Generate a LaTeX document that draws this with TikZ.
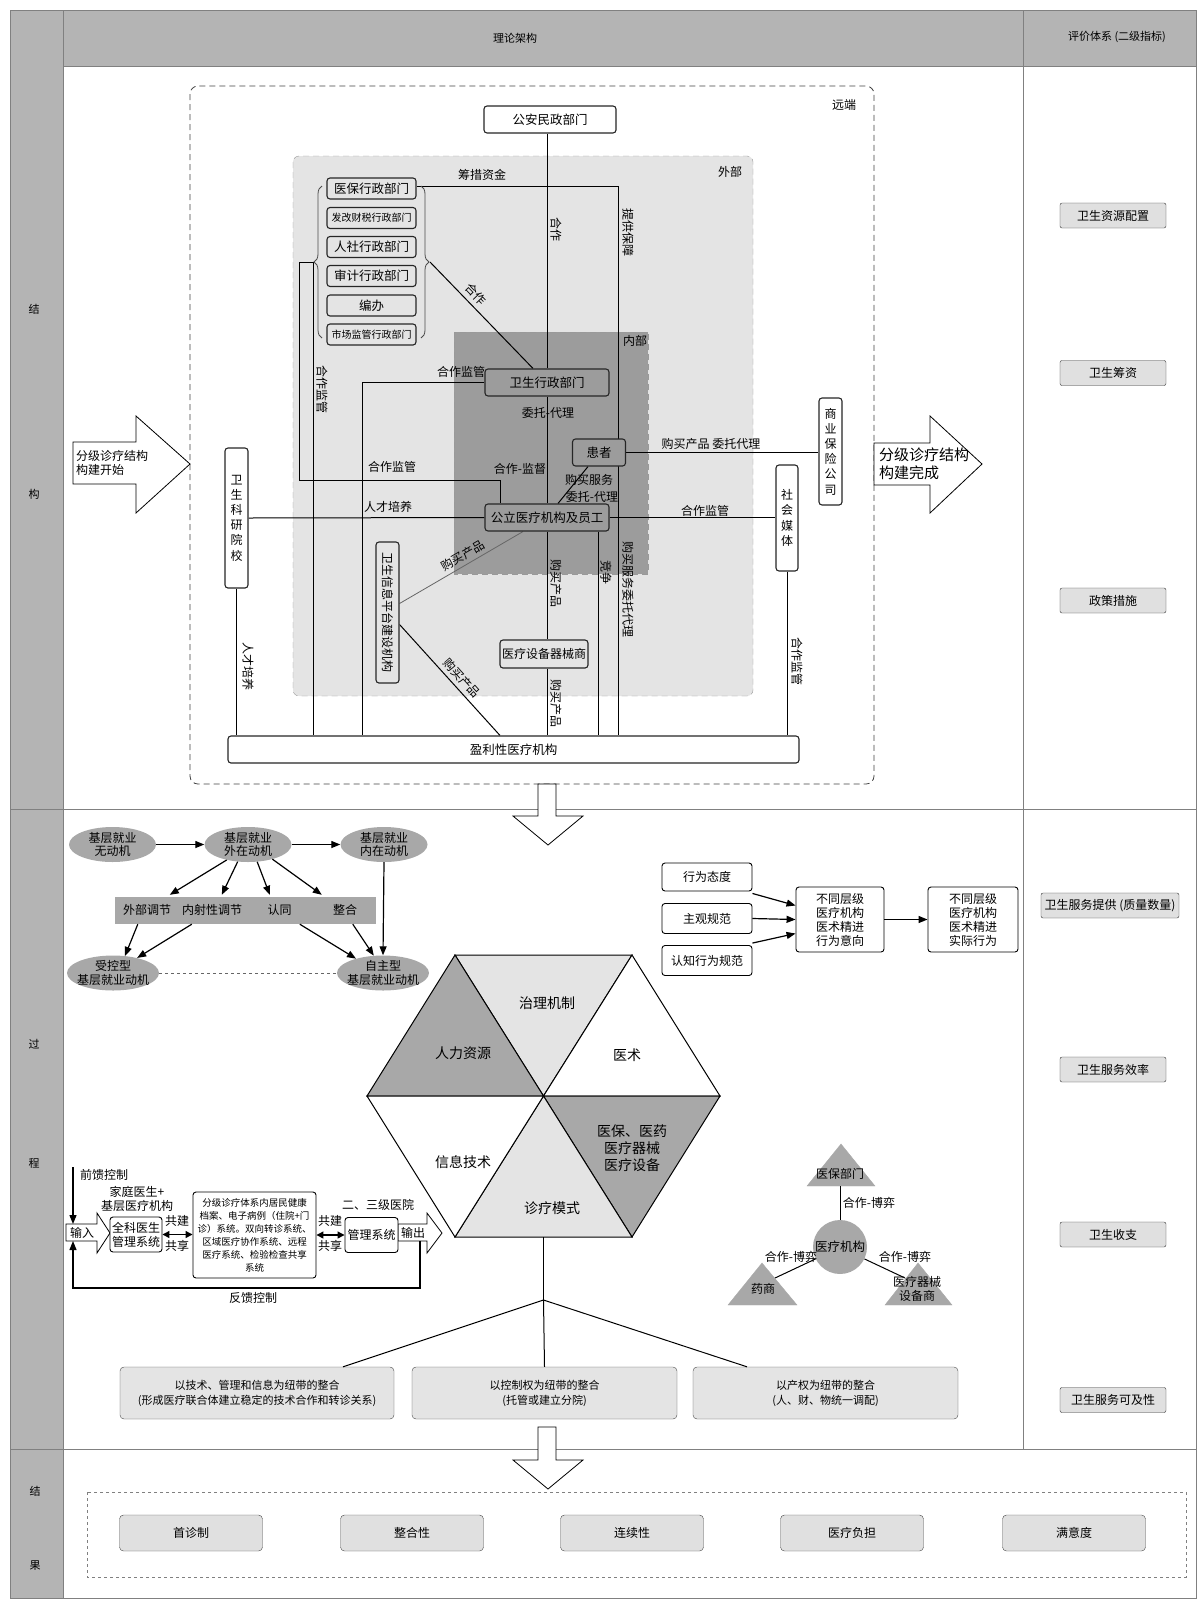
\documentclass[tikz,border=0pt]{standalone}
\usepackage{fontspec}
\setmainfont{Noto Sans CJK SC}
\usepackage{tikz}
\usetikzlibrary{arrows.meta, positioning, calc, shapes.geometric, decorations.pathreplacing}

\definecolor{bandgray}{HTML}{B4B4B4}
\definecolor{zonelight}{HTML}{E4E4E4}
\definecolor{zonedark}{HTML}{9C9C9C}
\definecolor{cellgray}{HTML}{E0E0E0}
\definecolor{ovalgray}{HTML}{A8A8A8}
\definecolor{framegray}{HTML}{808080}

\newcommand{\ftnode}{\fontsize{12.5}{15}\selectfont}
\newcommand{\ftlab}{\fontsize{12}{14}\selectfont}
\newcommand{\ftsmall}{\fontsize{10}{12}\selectfont}
\newcommand{\ftstack}{\fontsize{12}{15.2}\selectfont}
\newcommand{\fthex}{\fontsize{14}{17}\selectfont}
\newcommand{\fthead}{\fontsize{11}{13}\selectfont}
\newcommand{\ftoval}{\fontsize{12}{13.5}\selectfont}
\newcommand{\ftint}{\fontsize{11}{15}\selectfont}
\newcommand{\fttiny}{\fontsize{9.5}{13}\selectfont}
\newcommand{\ftbig}{\fontsize{15}{18}\selectfont}

\pgfdeclarelayer{zones}
\pgfdeclarelayer{links}
\pgfsetlayers{zones,links,main}

\tikzset{
  dept/.style={
    draw=black!85,
    rectangle,
    rounded corners=3pt,
    line width=1.1pt,
    align=center,
    font=\ftnode,
    inner sep=1pt
  },
  stackdept/.style={
    dept,
    fill=zonelight,
    minimum width=89pt,
    minimum height=21pt
  },
  upright/.style={
    dept,
    fill=white,
    font=\ftstack,
    inner sep=0pt
  },
  lbl/.style={font=\ftlab, inner sep=0pt},
  relline/.style={line width=1pt, black},
  arrow/.style={
    -{Triangle[length=9pt,width=7pt]},
    line width=1.2pt
  },
  dblarrow/.style={
    {Triangle[length=7pt,width=7pt]}-{Triangle[length=7pt,width=7pt]},
    line width=1.2pt
  },
  motive/.style={
    ellipse,
    fill=ovalgray,
    minimum width=87pt,
    minimum height=35pt,
    inner xsep=-4pt,
    inner ysep=-1.5pt,
    align=center,
    font=\ftoval
  },
  rbox/.style={
    draw,
    rounded corners=3pt,
    line width=0.9pt,
    fill=white,
    align=center,
    font=\ftlab,
    inner sep=1pt
  },
  evalbox/.style={
    draw=black!80,
    fill=cellgray,
    rounded corners=2pt,
    minimum width=106pt,
    minimum height=25pt,
    font=\ftlab,
    inner sep=1pt
  },
  linkbox/.style={
    draw=black!70,
    fill=zonelight,
    rounded corners=4pt,
    minimum height=52pt,
    align=center,
    font=\ftint
  },
  outbox/.style={
    draw=black!70,
    fill=cellgray,
    rounded corners=4pt,
    minimum width=143pt,
    minimum height=36pt,
    font=\ftlab
  },
  blockarrow/.style={draw, fill=white, line width=0.8pt},
  hexpart/.style={draw, line width=1pt}
}

\begin{document}
\begin{tikzpicture}[x=1pt, y=-1pt]
  \useasboundingbox (0,0) rectangle (1197,1599);

  % cadre
  \fill[bandgray] (10,10) rectangle (63,1599);
  \fill[bandgray] (63,10) rectangle (1197,66);
  \draw[framegray, line width=0.8pt] (10,10) rectangle (1196.5,1598.5);
  \draw[framegray, line width=0.8pt] (63,10) -- (63,1599);
  \draw[framegray, line width=0.8pt] (1023,10) -- (1023,1449);
  \draw[framegray, line width=0.8pt] (63,66) -- (1197,66);
  \draw[framegray, line width=0.8pt] (10,809) -- (1197,809);
  \draw[framegray, line width=0.8pt] (10,1449) -- (1197,1449);

  \node[font=\fthead] (hd1) at (515,38) {理论架构};
  \node[font=\fthead] (hd2) at (1117,37) {评价体系 (二级指标)};
  \node[font=\fthead] (sc1) at (34,309) {结};
  \node[font=\fthead] (sc2) at (34,494) {构};
  \node[font=\fthead] (sc3) at (34,1044) {过};
  \node[font=\fthead] (sc4) at (34,1163) {程};
  \node[font=\fthead] (sc5) at (35,1491) {结};
  \node[font=\fthead] (sc6) at (35,1566) {果};

  % indicateurs
  \node[evalbox] (ev1) at (1113,215.5) {卫生资源配置};
  \node[evalbox] (ev2) at (1113,373) {卫生筹资};
  \node[evalbox] (ev3) at (1113,600.5) {政策措施};
  \node[evalbox, minimum width=138pt] (ev4) at (1110,905.5) {卫生服务提供 (质量数量)};
  \node[evalbox] (ev5) at (1113,1069.5) {卫生服务效率};
  \node[evalbox] (ev6) at (1113,1234.5) {卫生收支};
  \node[evalbox] (ev7) at (1113,1400) {卫生服务可及性};

  % zones
  \begin{pgfonlayer}{zones}
    \draw[dash pattern=on 6pt off 4pt, rounded corners=8pt, black!75, line width=0.8pt] (190,86) rectangle (874,784);
    \draw[dash pattern=on 6pt off 4pt, rounded corners=6pt, fill=zonelight, draw=black!40] (293,156) rectangle (753,696);
    \draw[dash pattern=on 6pt off 4pt, fill=zonedark, draw=black!40] (454,332) rectangle (648,574);
  \end{pgfonlayer}
  \node[lbl] (zn1) at (844,105) {远端};
  \node[lbl] (zn2) at (730,172) {外部};
  \node[lbl] (zn3) at (635,341) {内部};

  % structure
  \node[dept, fill=white, minimum width=132pt, minimum height=27pt] (ga) at (550,119.5) {公安民政部门};
  \node[stackdept] (yb) at (371.5,188.5) {医保行政部门};
  \node[stackdept, font=\ftsmall] (fg) at (371.5,218) {发改财税行政部门};
  \node[stackdept] (rs) at (371.5,247) {人社行政部门};
  \node[stackdept] (sj) at (371.5,276) {审计行政部门};
  \node[stackdept] (bb) at (371.5,305.5) {编办};
  \node[stackdept, font=\ftsmall] (sc) at (371.5,334.5) {市场监管行政部门};
  \draw[decorate, decoration={brace, amplitude=8pt}, line width=0.8pt, black!70] (322,338) -- (322,186);
  \draw[decorate, decoration={brace, amplitude=8pt}, line width=0.8pt, black!70] (421,186) -- (421,338);
  \coordinate (lbr) at (313,262);
  \coordinate (rbr) at (430,262);

  \node[dept, fill=zonedark, minimum width=124pt, minimum height=27pt] (wsx) at (547,382.5) {卫生行政部门};
  \node[dept, fill=zonedark, minimum width=53pt, minimum height=27pt] (hz) at (599,452.5) {患者};
  \node[dept, fill=zonedark, minimum width=124pt, minimum height=27pt] (gl) at (547,517.5) {公立医疗机构及员工};
  \node[dept, fill=zonelight, minimum width=88pt, minimum height=28pt, font=\ftlab, inner sep=0pt] (sb) at (544,654) {医疗设备器械商};
  \node[dept, fill=zonelight, rotate=-90, minimum width=141pt, minimum height=23pt, font=\ftlab] (xx) at (387.5,612.5) {卫生信息平台建设机构};
  \node[upright, minimum width=23pt, minimum height=140pt] (ky) at (236.5,518) {卫\\生\\科\\研\\院\\校};
  \node[upright, minimum width=23pt, minimum height=107pt] (bx) at (830.5,451.5) {商\\业\\保\\险\\公\\司};
  \node[upright, minimum width=22pt, minimum height=106pt] (mt) at (787,518) {社\\会\\媒\\体};
  \node[dept, fill=white, minimum width=571pt, minimum height=27pt] (yl) at (513.5,749.5) {盈利性医疗机构};

  \begin{pgfonlayer}{links}
    \draw[relline] (wsx.north |- ga.south) -- (wsx.north);
    \draw[relline] (wsx.south) -- (gl.north);
    \draw[relline] (gl.south) -- (gl.south |- sb.north);
    \draw[relline] (gl.south |- sb.south) -- (gl.south |- yl.north);
    \draw[relline] ($(yb.east)+(0,-2)$) -| (618,0 |- yl.north);
    \draw[relline] (lbr) -| (299,480) -| ($(gl.north)+(-47,0)$);
    \draw[relline] (lbr) -- (lbr |- yl.north);
    \draw[relline] (wsx.west) -| (362,0 |- yl.north);
    \draw[relline] (rbr) -- ($(wsx.north)+(-14,0)$);
    \draw[relline] (hz.east) -- (bx.west |- hz.east);
    \draw[relline] ($(hz.south)+(-11,0)$) -- ($(gl.north)+(11,0)$);
    \draw[relline] (gl.east) -- (mt.west |- gl.east);
    \draw[relline] (mt.south) -- (mt.south |- yl.north);
    \draw[relline] (ky.east) -- (gl.west);
    \draw[relline] (ky.south) -- (ky.south |- yl.north);
    \draw[relline] (gl.south -| 598,0) -- (598,0 |- yl.north);
    \draw[line width=0.8pt, black!60] ($(xx.north)+(0,-9)$) -- ($(gl.south)+(-24,0)$);
    \draw[relline] ($(xx.north)+(0,12)$) -- (500,0 |- yl.north);
  \end{pgfonlayer}

  % libelles
  \node[lbl] (lb1) at (482,175) {筹措资金};
  \node[lbl, rotate=-90] (lb2) at (556,229) {合作};
  \node[lbl, rotate=-90] (lb3) at (628,232) {提供保障};
  \node[lbl, rotate=-46] (lb4) at (476,294) {合作};
  \node[lbl, rotate=-90] (lb5) at (322,389) {合作监管};
  \node[lbl] (lb6) at (461,372) {合作监管};
  \node[lbl] (lb7) at (548,413) {委托-代理};
  \node[lbl] (lb8) at (392,467) {合作监管};
  \node[lbl] (lb9) at (520,469) {合作-监督};
  \node[lbl] (lb10) at (711,444) {购买产品 委托代理};
  \node[lbl] (lb11) at (589,480) {购买服务};
  \node[lbl] (lb12) at (592,497) {委托-代理};
  \node[lbl] (lb13) at (388,507) {人才培养};
  \node[lbl] (lb14) at (705,511) {合作监管};
  \node[lbl, rotate=30] (lb15) at (463,556) {购买产品};
  \node[lbl, rotate=-90] (lb16) at (556,583) {购买产品};
  \node[lbl, rotate=-90] (lb17) at (606,572) {竞争};
  \node[lbl, rotate=-90] (lb18) at (628,589) {购买服务委托代理};
  \node[lbl, rotate=-48] (lb19) at (462,678) {购买产品};
  \node[lbl, rotate=-90] (lb20) at (556,703) {购买产品};
  \node[lbl, rotate=-90] (lb21) at (248,666) {人才培养};
  \node[lbl, rotate=-90] (lb22) at (797,661) {合作监管};

  % fleches de bloc
  \draw[blockarrow] (73,442) -- (136,442) -- (136,416) -- (190,464) -- (136,513) -- (136,484) -- (73,484) -- cycle;
  \node[font=\ftlab, align=left, anchor=west, inner sep=0pt] (begin) at (76,463) {分级诊疗结构\\构建开始};
  \draw[blockarrow] (874,443) -- (930,443) -- (930,416) -- (982,464) -- (930,513) -- (930,485) -- (874,485) -- cycle;
  \node[font=\ftbig, align=left, anchor=west, inner sep=0pt] (finish) at (879,464) {分级诊疗结构\\构建完成};
  \draw[blockarrow] (538,784) -- (556,784) -- (556,816) -- (583,816) -- (548,845) -- (513,816) -- (538,816) -- cycle;
  \draw[blockarrow] (538,1427) -- (556,1427) -- (556,1460) -- (583,1460) -- (548,1489) -- (513,1460) -- (538,1460) -- cycle;

  % motivation
  \node[motive] (m0) at (112.5,844.5) {基层就业\\无动机};
  \node[motive] (m1) at (248,844.5) {基层就业\\外在动机};
  \node[motive] (m2) at (384,844.5) {基层就业\\内在动机};
  \node[motive, minimum width=92pt] (m3) at (113,973) {受控型\\基层就业动机};
  \node[motive, minimum width=92pt] (m4) at (383,973) {自主型\\基层就业动机};
  \node[fill=ovalgray, minimum width=261pt, minimum height=27pt] (bar) at (245.5,910.5) {};
  \node[lbl] (t1) at (147,910) {外部调节};
  \node[lbl] (t2) at (212,910) {内射性调节};
  \node[lbl] (t3) at (279.5,910) {认同};
  \node[lbl] (t4) at (345,910) {整合};

  \draw[arrow] (m0) -- (m1);
  \draw[arrow] (m1) -- (m2);
  \draw[arrow] (m1.216) -- ($(bar.north west)+(55,-2)$);
  \draw[arrow] (m1.239) -- ($(bar.north west)+(107,-2)$);
  \draw[arrow] (m1.298) -- ($(bar.north west)+(155,-2)$);
  \draw[arrow] (m1.329) -- ($(bar.north west)+(207,-2)$);
  \draw[arrow] ($(bar.south west)+(23,0)$) -- (m3.55);
  \draw[arrow] ($(bar.south west)+(77,0)$) -- (m3.32);
  \draw[arrow] ($(bar.south west)+(185,0)$) -- (m4.152);
  \draw[arrow] ($(bar.south west)+(238,0)$) -- (m4.118);
  \draw[arrow] (m2.south) -- (m4.north);
  \draw[dashed, black!60, line width=0.8pt] (m3.east) -- (m4.west);

  % intention
  \node[rbox, minimum width=90pt, minimum height=28pt] (a1) at (707,877) {行为态度};
  \node[rbox, minimum width=90pt, minimum height=30pt] (a2) at (707,918.5) {主观规范};
  \node[rbox, minimum width=90pt, minimum height=30pt] (a3) at (707,960.5) {认知行为规范};
  \node[rbox, minimum width=88pt, minimum height=65pt] (b1) at (840,919.5) {不同层级\\医疗机构\\医术精进\\行为意向};
  \node[rbox, minimum width=90pt, minimum height=65pt] (b2) at (973,919.5) {不同层级\\医疗机构\\医术精进\\实际行为};
  \draw[arrow] ($(a1.south east)+(0,2)$) -- ($(b1.west)+(0,-14)$);
  \draw[arrow] (a2.east) -- (b1.west);
  \draw[arrow] ($(a3.north east)+(0,-2)$) -- ($(b1.west)+(0,14)$);
  \draw[arrow] (b1.east) -- (b2.west);

  % hexagone
  \coordinate (hc) at (543.5,1096);
  \coordinate (htl) at (455,955);
  \coordinate (htr) at (632,955);
  \coordinate (hr) at (720,1096);
  \coordinate (hbr) at (632,1237);
  \coordinate (hbl) at (455,1237);
  \coordinate (hl) at (367,1096);
  \filldraw[hexpart, fill=zonelight] (htl) -- (htr) -- (hc) -- cycle;
  \filldraw[hexpart, fill=ovalgray] (hl) -- (htl) -- (hc) -- cycle;
  \filldraw[hexpart, fill=white] (htr) -- (hr) -- (hc) -- cycle;
  \filldraw[hexpart, fill=ovalgray] (hr) -- (hbr) -- (hc) -- cycle;
  \filldraw[hexpart, fill=zonelight] (hbr) -- (hbl) -- (hc) -- cycle;
  \filldraw[hexpart, fill=white] (hbl) -- (hl) -- (hc) -- cycle;
  \node[font=\fthex] (h1) at (547,1003) {治理机制};
  \node[font=\fthex] (h2) at (463,1053) {人力资源};
  \node[font=\fthex] (h3) at (627,1055) {医术};
  \node[font=\fthex, align=center] (h4) at (632,1148) {医保、医药\\医疗器械\\医疗设备};
  \node[font=\fthex] (h5) at (552,1208) {诊疗模式};
  \node[font=\fthex] (h6) at (463,1162) {信息技术};

  % integration
  \node[linkbox, minimum width=274pt] (i1) at (257,1393) {以技术、管理和信息为纽带的整合\\(形成医疗联合体建立稳定的技术合作和转诊关系)};
  \node[linkbox, minimum width=265pt] (i2) at (544.5,1393) {以控制权为纽带的整合\\(托管或建立分院)};
  \node[linkbox, minimum width=265pt] (i3) at (825.5,1393) {以产权为纽带的整合\\(人、财、物统一调配)};
  \coordinate (hsplit) at (543.5,1300);
  \draw[relline] ($(hbl)!0.5!(hbr)$) -- (hsplit);
  \draw[relline] (hsplit) -- ($(i1.north)+(86,0)$);
  \draw[relline] (hsplit) -- (i2.north);
  \draw[relline] (hsplit) -- ($(i3.north)+(-78.5,0)$);

  % systeme d'information
  \draw[blockarrow] (66,1224) -- (97,1224) -- (97,1213) -- (110,1233) -- (97,1253) -- (97,1241) -- (66,1241) -- cycle;
  \node[lbl] (inlbl) at (82,1233) {输入};
  \draw[blockarrow] (398,1224) -- (427,1224) -- (427,1213) -- (442,1233) -- (427,1253) -- (427,1241) -- (398,1241) -- cycle;
  \node[lbl] (outlbl) at (413,1233) {输出};
  \node[rbox, minimum width=52pt, minimum height=35pt, inner sep=0pt] (q1) at (136,1234.5) {全科医生\\管理系统};
  \node[rbox, minimum width=123pt, minimum height=86pt, font=\fttiny] (q2) at (254.5,1235) {分级诊疗体系内居民健康\\档案、电子病例（住院+门\\诊）系统。双向转诊系统、\\区域医疗协作系统、远程\\医疗系统、检验检查共享\\系统};
  \node[rbox, minimum width=53pt, minimum height=35pt, inner sep=0pt] (q3) at (371.5,1235) {管理系统};
  \draw[dblarrow] (q1.east) -- (q2.west |- q1.east);
  \draw[dblarrow] (q2.east |- q3.west) -- (q3.west);
  \node[lbl] (gj1) at (177,1221) {共建};
  \node[lbl] (gx1) at (177,1246) {共享};
  \node[lbl] (gj2) at (330,1221) {共建};
  \node[lbl] (gx2) at (330,1246) {共享};
  \node[lbl, align=center] (jt) at (137,1198.5) {家庭医生+\\基层医疗机构};
  \node[lbl] (ejyy) at (378,1205) {二、三级医院};
  \node[lbl] (qk) at (104,1175) {前馈控制};
  \node[lbl] (fk) at (253,1298) {反馈控制};
  \coordinate (ffs) at (73,1167);
  \coordinate (inTop) at (73,1224);
  \coordinate (inBot) at (73,1241);
  \coordinate (outBot) at (420,1241);
  \draw[arrow] (ffs) -- (inTop);
  \draw[arrow] (outBot) -- (420,1288) -| (inBot);

  % acteurs
  \filldraw[ovalgray] (841,1144) -- (875,1186) -- (807,1186) -- cycle;
  \filldraw[ovalgray] (762,1263) -- (797,1305) -- (728,1305) -- cycle;
  \filldraw[ovalgray] (918,1263) -- (952,1305) -- (885,1305) -- cycle;
  \node[font=\ftlab] (yb2) at (840,1174) {医保部门};
  \node[font=\ftlab] (ys) at (763,1289) {药商};
  \node[font=\ftlab, align=center] (qx) at (917,1289) {医疗器械\\设备商};
  \node[circle, fill=ovalgray, minimum size=54pt, inner sep=0pt, font=\ftnode] (jg) at (840,1247) {医疗机构};
  \coordinate (t1b) at (840,1186);
  \coordinate (t2e) at (775,1278);
  \coordinate (t3e) at (905,1278);
  \draw[relline] (jg.north) -- (t1b);
  \draw[relline] (jg.206) -- (t2e);
  \draw[relline] (jg.334) -- (t3e);
  \node[lbl] (bo1) at (869,1203) {合作-博弈};
  \node[lbl] (bo2) at (791,1257) {合作-博弈};
  \node[lbl] (bo3) at (905,1257) {合作-博弈};

  % resultats
  \draw[dashed, framegray, line width=0.8pt] (87,1492) rectangle (1186,1577);
  \node[outbox] (r1) at (191,1533) {首诊制};
  \node[outbox] (r2) at (412,1533) {整合性};
  \node[outbox] (r3) at (632,1533) {连续性};
  \node[outbox] (r4) at (852,1533) {医疗负担};
  \node[outbox] (r5) at (1074,1533) {满意度};
\end{tikzpicture}
\end{document}
